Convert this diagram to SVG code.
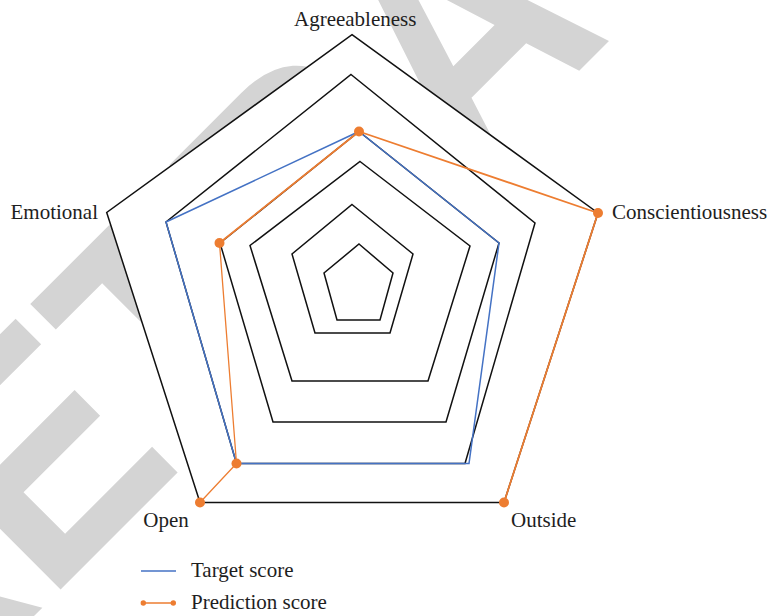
<svg xmlns="http://www.w3.org/2000/svg" width="768" height="616" viewBox="0 0 768 616">
  <style>
    .wm { font-family: "Liberation Sans", Arial, sans-serif; font-weight: bold; font-size: 295px; fill: #d4d4d4; }
    .plot-bg { fill: #ffffff; stroke: none; }
    .ring { fill: none; stroke: #111; stroke-width: 1.5; stroke-linejoin: miter; }
    .target { fill: none; stroke: #4472c4; stroke-width: 1.5; stroke-linejoin: miter; }
    .pred { fill: none; stroke: #ed7d31; stroke-width: 1.8; stroke-linejoin: round; }
    .pred-thin { fill: none; stroke: #ed7d31; stroke-width: 1.3; }
    .dot { fill: #ed7d31; }
    .label { font-family: "Liberation Serif", "Times New Roman", serif; font-size: 21px; fill: #1e1e1e; }
  </style>

  <rect width="768" height="616" fill="#ffffff"/>

  <!-- background watermark -->
  <g id="watermark">
    <text class="wm" transform="translate(-104,754) rotate(-45) scale(1,1.1)">RETRACTED</text>
  </g>

  <!-- plot area background -->
  <polygon class="plot-bg" points="352,34.7 598,213 504,502.5 200,502.5 106.7,212.5"/>

  <!-- radar grid rings -->
  <g id="grid">
    <polygon class="ring" points="352,34.7 598,213 504,502.5 200,502.5 106.7,212.5"/>
    <polygon class="ring" points="351,74.5 535,223 465,463.5 236.5,463.5 166,222"/>
    <polygon class="ring" points="359,131.5 499,243 446,422 273,422 220,243"/>
    <polygon class="ring" points="360,161.5 470,246 428,381 292,381 250,245.5"/>
    <polygon class="ring" points="352,204.5 413,254 390,333 315,333 292,254"/>
    <polygon class="ring" points="359,244 393,273 380,320 337,320 324,273"/>
  </g>

  <!-- data series -->
  <g id="connectors">
    <polygon class="target" points="359,131.5 499,243 469,463.5 236.5,463.5 166,222"/>
    <polyline class="pred-thin" points="200,502.5 236.5,463.5 219.5,243"/>
    <polyline class="pred" points="219.5,243 359,131.5 598,213 504,502.5"/>
  </g>

  <g id="prediction-points">
    <circle class="dot" cx="359" cy="131.5" r="5"/>
    <circle class="dot" cx="598" cy="213" r="5"/>
    <circle class="dot" cx="504" cy="502.5" r="5"/>
    <circle class="dot" cx="200" cy="502.5" r="5"/>
    <circle class="dot" cx="236.5" cy="463.5" r="5"/>
    <circle class="dot" cx="219.5" cy="243" r="5"/>
  </g>

  <!-- axis labels -->
  <g id="axis-agreeableness"><text class="label" x="294" y="25.5">Agreeableness</text></g>
  <g id="axis-conscientiousness"><text class="label" x="612" y="218.5">Conscientiousness</text></g>
  <g id="axis-outside"><text class="label" x="511" y="526.5">Outside</text></g>
  <g id="axis-open"><text class="label" x="143.3" y="526.5">Open</text></g>
  <g id="axis-emotional"><text class="label" x="98" y="218.5" text-anchor="end">Emotional</text></g>

  <!-- legend -->
  <g id="legend">
    <line x1="141" y1="571" x2="176" y2="571" stroke="#4472c4" stroke-width="1.5"/>
    <text class="label" x="191" y="576.5">Target score</text>
    <line x1="143.3" y1="603" x2="173.3" y2="603" stroke="#ed7d31" stroke-width="1.5"/>
    <circle class="dot" cx="143.3" cy="603" r="2.7"/>
    <circle class="dot" cx="173.3" cy="603" r="2.7"/>
    <text class="label" x="191" y="608.5">Prediction score</text>
  </g>
</svg>
